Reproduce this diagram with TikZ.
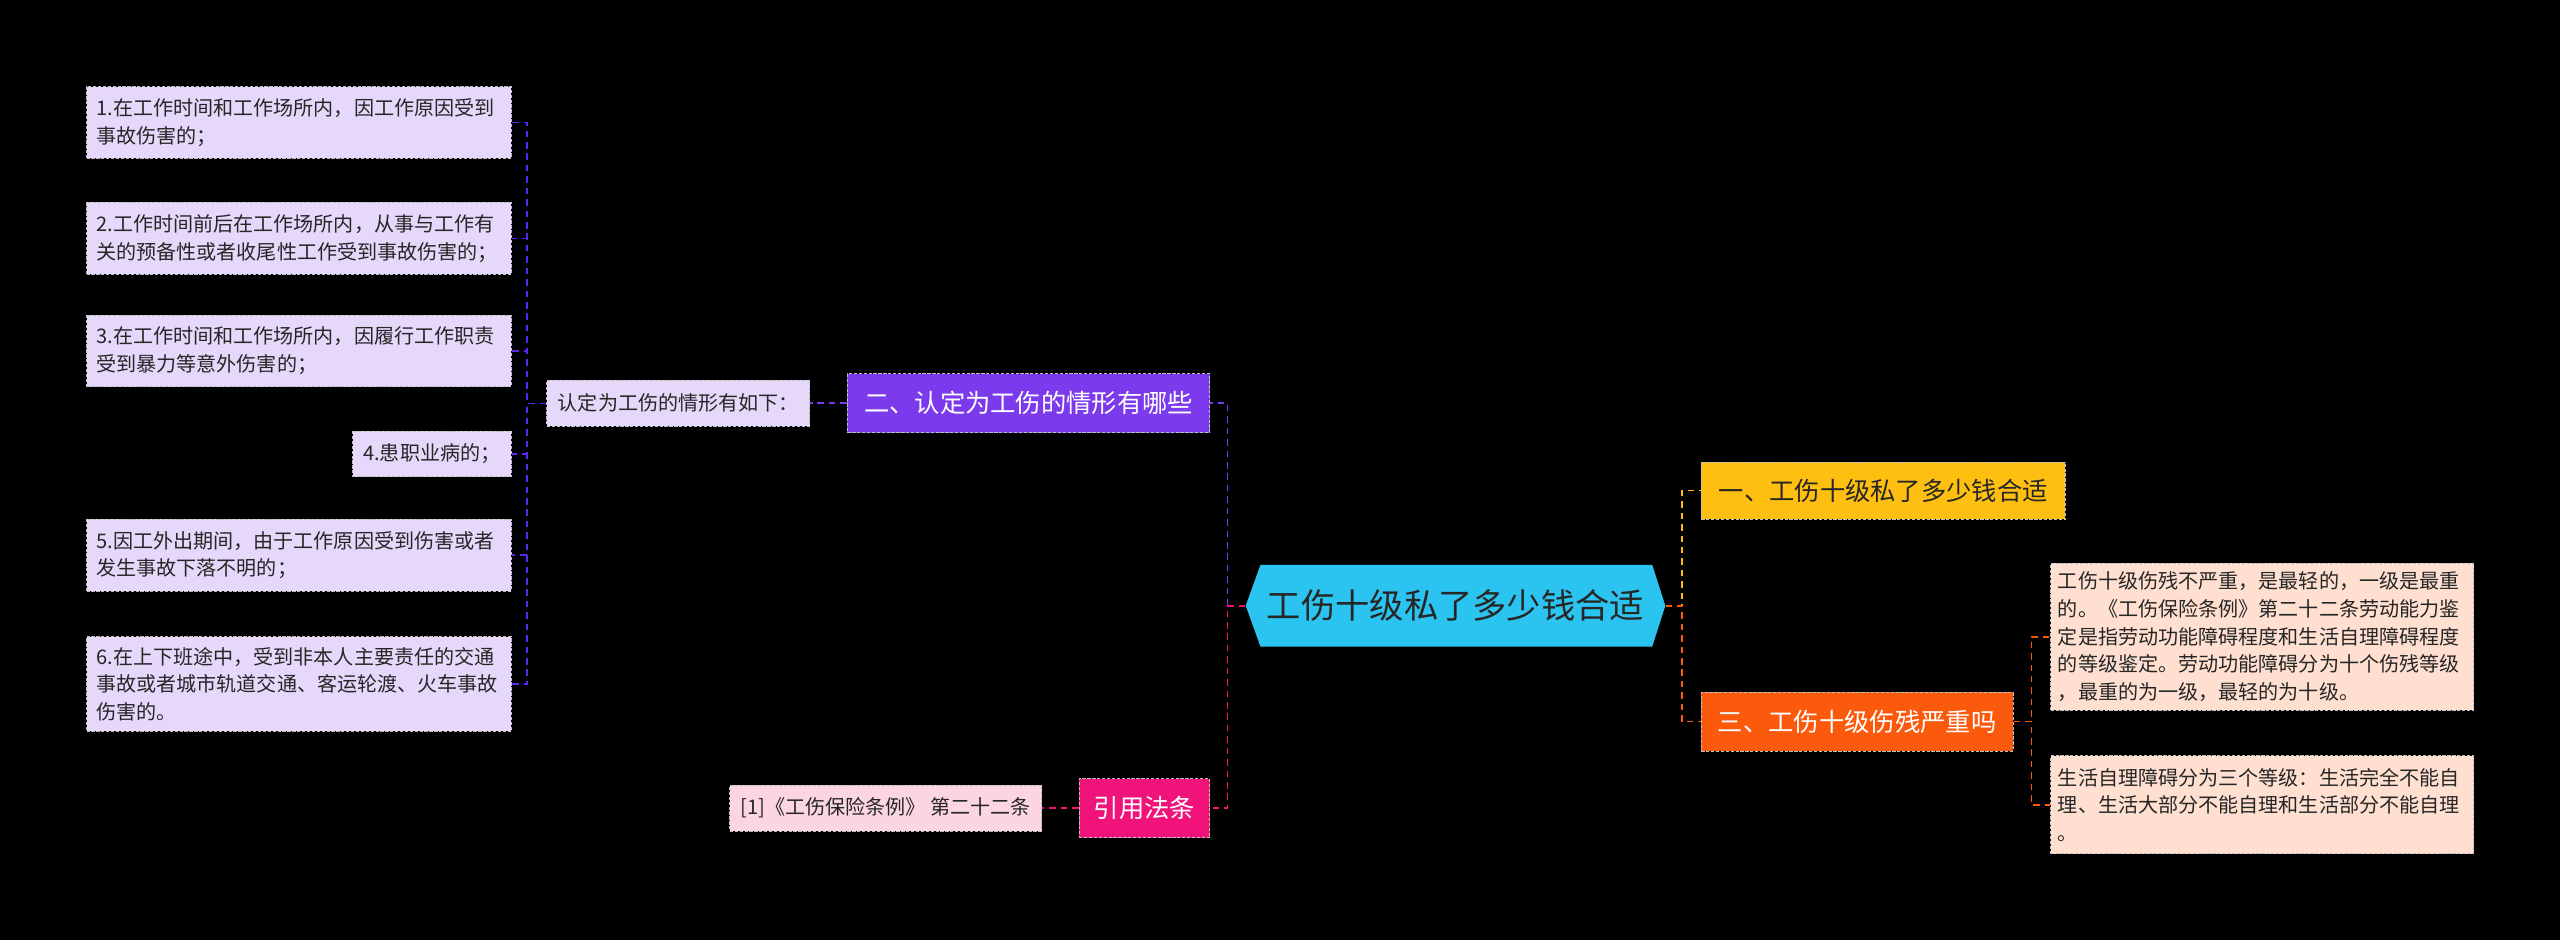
\documentclass[tikz,border=0pt]{standalone}
\usepackage{fontspec}
\setmainfont{Noto Sans CJK SC}
\begin{document}
\begin{tikzpicture}[x=1pt,y=-1pt,
 box/.style={draw=white!75!black,dash pattern=on 2pt off 1pt,line width=0.6pt,inner sep=0pt,align=left,font=\fontsize{12.3}{17}\selectfont,text=black!85},
 item/.style={box,fill=lav,minimum width=260pt,text width=248pt},
 br/.style={box,font=\fontsize{15.5}{19}\selectfont,minimum height=36pt,align=center},
 con/.style={line width=1pt,dash pattern=on 4pt off 3pt}]
\definecolor{lav}{HTML}{E6D8FA}
\definecolor{pur}{HTML}{7C3AED}
\definecolor{cyanc}{HTML}{2BC4F0}
\definecolor{yel}{HTML}{FFBF10}
\definecolor{ora}{HTML}{FB5A0C}
\definecolor{peach}{HTML}{FFE0D0}
\definecolor{pinkc}{HTML}{F0137A}
\definecolor{lpink}{HTML}{FCD5E5}
\fill[black] (0,0) rectangle (1568,576);
\useasboundingbox (0,0) rectangle (1568,576);
% center
\fill[cyanc] (772,346)--(1012,346)--(1020,371)--(1012,396)--(772,396)--(763,371)--cycle;
\node[minimum width=257pt,minimum height=50pt,inner sep=0pt,font=\fontsize{21}{24}\selectfont,text=black!85] (c) at (891.5,371) {工伤十级私了多少钱合适};
% right
\node[br,fill=yel,minimum width=223pt,minimum height=35pt] (b1) at (1153.5,300.5) {一、工伤十级私了多少钱合适};
\node[br,fill=ora,text=white,minimum width=191pt] (b3) at (1137.5,442) {三、工伤十级伤残严重吗};
\node[box,fill=peach,minimum width=259pt,minimum height=90pt,text width=250pt] (r1) at (1385.5,390) {工伤十级伤残不严重，是最轻的，一级是最重\\的。《工伤保险条例》第二十二条劳动能力鉴\\定是指劳动功能障碍程度和生活自理障碍程度\\的等级鉴定。劳动功能障碍分为十个伤残等级\\，最重的为一级，最轻的为十级。};
\node[box,fill=peach,minimum width=259pt,minimum height=60pt,text width=250pt] (r2) at (1385.5,493) {生活自理障碍分为三个等级：生活完全不能自\\理、生活大部分不能自理和生活部分不能自理\\。};
% left
\node[br,fill=pur,text=white,minimum width=222pt] (b2) at (630,247) {二、认定为工伤的情形有哪些};
\node[box,fill=lav,minimum width=161pt,minimum height=28pt,align=center] (k) at (415.5,247) {认定为工伤的情形有如下：};
\node[item,minimum height=44pt] (i1) at (183,75) {1.在工作时间和工作场所内，因工作原因受到\\事故伤害的；};
\node[item,minimum height=44pt] (i2) at (183,146) {2.工作时间前后在工作场所内，从事与工作有\\关的预备性或者收尾性工作受到事故伤害的；};
\node[item,minimum height=44pt] (i3) at (183,215) {3.在工作时间和工作场所内，因履行工作职责\\受到暴力等意外伤害的；};
\node[box,fill=lav,minimum width=97pt,minimum height=28pt,align=center] (i4) at (264.5,278) {4.患职业病的；};
\node[item,minimum height=44pt] (i5) at (183,340) {5.因工外出期间，由于工作原因受到伤害或者\\发生事故下落不明的；};
\node[item,minimum height=58pt] (i6) at (183,419) {6.在上下班途中，受到非本人主要责任的交通\\事故或者城市轨道交通、客运轮渡、火车事故\\伤害的。};
\node[br,fill=pinkc,text=white,minimum width=80pt] (b4) at (701,495) {引用法条};
\node[box,fill=lpink,minimum width=191pt,minimum height=28pt,align=center] (l) at (542.5,495) {[1]《工伤保险条例》 第二十二条};
% connectors
\draw[con,pinkc] (c.west) -- ++(-11,0) |- (b4.east);
\draw[con,pur] (c.west) ++(-11,0) |- (b2.east);
\draw[con,yel] (c.east) -- ++(10,0) |- (b1.west);
\draw[con,ora] (c.east) -- ++(10,0) |- (b3.west);
\draw[con,ora] (b3.east) -- ++(11,0) |- (r1.west);
\draw[con,ora] (b3.east) -- ++(11,0) |- (r2.west);
\draw[con,pur] (b2.west) -- (k.east);
\draw[con,pinkc] (b4.west) -- (l.east);
\foreach \i in {i1,i2,i3,i4,i5,i6}
  \draw[con,pur!70!blue,line width=0.8pt] (k.west) -- ++(-12,0) |- (\i.east);
\end{tikzpicture}
\end{document}
